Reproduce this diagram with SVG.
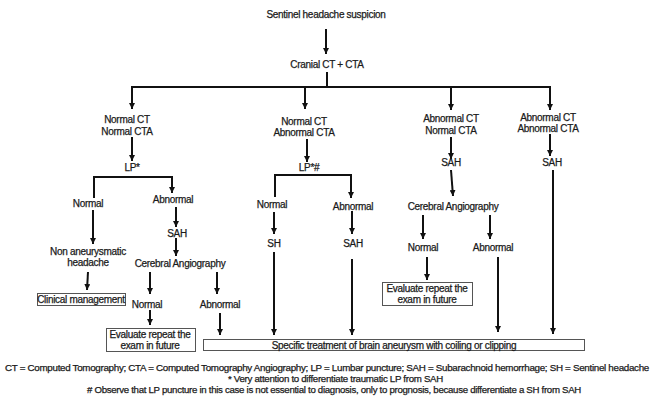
<svg xmlns="http://www.w3.org/2000/svg" width="654" height="399" viewBox="0 0 654 399">
<defs>
<marker id="ah" markerUnits="userSpaceOnUse" markerWidth="7" markerHeight="6" refX="6" refY="3" orient="auto">
<path d="M0,0 L6,3 L0,6 z" fill="#111"/>
</marker>
<style>
text{font-family:"Liberation Sans",Arial,sans-serif;font-size:10px;fill:#1a1a1a;stroke:#1a1a1a;stroke-width:0.25;letter-spacing:-0.3px;text-anchor:middle}
.ft{font-size:9.6px}
.ln{stroke:#111;stroke-width:2;fill:none}
.ar{stroke:#111;stroke-width:2;fill:none;marker-end:url(#ah)}
.bx{fill:#fff;stroke:#555;stroke-width:1}
</style>
</defs>
<rect width="654" height="399" fill="#fff"/>
<g id="connectors">
<line class="ar" x1="326" y1="29" x2="326" y2="54"/>
<line class="ln" x1="327" y1="72" x2="327" y2="87"/>
<polyline class="ln" points="131,87 551,87"/>
<line class="ar" x1="132" y1="86" x2="132" y2="109"/>
<line class="ar" x1="305" y1="86" x2="305" y2="109"/>
<line class="ar" x1="451" y1="86" x2="451" y2="110"/>
<line class="ar" x1="550" y1="86" x2="550" y2="110"/>
<line class="ar" x1="132" y1="137" x2="132" y2="161"/>
<polyline class="ar" points="94,198 94,177 172,177 172,193"/>
<line class="ar" x1="307" y1="139" x2="307" y2="162"/>
<polyline class="ar" points="275,197 275,175 351,175 351,198"/>
<line class="ar" x1="451" y1="137" x2="451" y2="159"/>
<line class="ar" x1="451" y1="170" x2="453" y2="196"/>
<line class="ar" x1="550" y1="134" x2="550" y2="156"/>
<line class="ar" x1="553" y1="170" x2="553" y2="334"/>
<line class="ar" x1="93" y1="210" x2="93" y2="244"/>
<line class="ar" x1="88" y1="272" x2="87" y2="290"/>
<line class="ar" x1="176" y1="207" x2="176" y2="227"/>
<line class="ar" x1="176" y1="238" x2="176" y2="256"/>
<line class="ar" x1="150" y1="272" x2="150" y2="294"/>
<line class="ar" x1="217" y1="272" x2="217" y2="294"/>
<line class="ar" x1="150" y1="310" x2="150" y2="325"/>
<line class="ar" x1="220" y1="313" x2="220" y2="335"/>
<line class="ar" x1="274" y1="212" x2="274" y2="234"/>
<line class="ar" x1="274" y1="252" x2="274" y2="335"/>
<line class="ar" x1="352" y1="211" x2="352" y2="234"/>
<line class="ar" x1="352" y1="259" x2="352" y2="335"/>
<line class="ar" x1="423" y1="215" x2="423" y2="239"/>
<line class="ar" x1="490" y1="215" x2="490" y2="239"/>
<line class="ar" x1="427" y1="257" x2="427" y2="280"/>
<line class="ar" x1="498" y1="257" x2="498" y2="332"/>
</g>
<g id="n-start"><text x="326" y="18">Sentinel headache suspicion</text></g>
<g id="n-ctcta"><text x="327" y="68">Cranial CT + CTA</text></g>
<g id="n-nn"><text x="127" y="123">Normal CT</text><text x="127" y="135">Normal CTA</text></g>
<g id="n-na"><text x="304" y="125">Normal CT</text><text x="304" y="136">Abnormal CTA</text></g>
<g id="n-an"><text x="451" y="122">Abnormal CT</text><text x="451" y="134">Normal CTA</text></g>
<g id="n-aa"><text x="548" y="121">Abnormal CT</text><text x="548" y="132">Abnormal CTA</text></g>
<g id="n-lp1"><text x="132" y="171">LP*</text></g>
<g id="n-lp2"><text x="309" y="171">LP*#</text></g>
<g id="n-sah3"><text x="451" y="166">SAH</text></g>
<g id="n-sah4"><text x="552" y="166">SAH</text></g>
<g id="n-normal1"><text x="88" y="207">Normal</text></g>
<g id="n-abn1"><text x="173" y="203">Abnormal</text></g>
<g id="n-nonan"><text x="88" y="255">Non aneurysmatic</text><text x="88" y="266">headache</text></g>
<g id="n-clin"><rect class="bx" x="37.5" y="293.5" width="88" height="12"/><text x="81" y="303">Clinical management</text></g>
<g id="n-sah1"><text x="177" y="237">SAH</text></g>
<g id="n-ca1"><text x="180" y="267">Cerebral Angiography</text></g>
<g id="n-normal2"><text x="147" y="308">Normal</text></g>
<g id="n-abn2"><text x="220" y="308">Abnormal</text></g>
<g id="n-eval1"><rect class="bx" x="106.5" y="328.5" width="89" height="23"/><text x="150" y="338">Evaluate repeat the</text><text x="150" y="349">exam in future</text></g>
<g id="n-normal3"><text x="272" y="208">Normal</text></g>
<g id="n-sh"><text x="274" y="247">SH</text></g>
<g id="n-abn3"><text x="353" y="210">Abnormal</text></g>
<g id="n-sah2"><text x="353" y="247">SAH</text></g>
<g id="n-ca2"><text x="453" y="210">Cerebral Angiography</text></g>
<g id="n-normal4"><text x="423" y="251">Normal</text></g>
<g id="n-abn4"><text x="493" y="251">Abnormal</text></g>
<g id="n-eval2"><rect class="bx" x="382.5" y="282.5" width="90" height="23"/><text x="427" y="292">Evaluate repeat the</text><text x="427" y="303">exam in future</text></g>
<g id="n-treat"><rect class="bx" x="203.5" y="339.5" width="381" height="11"/><text x="394" y="348.5">Specific treatment of brain aneurysm with coiling or clipping</text></g>
<g id="footer">
<text class="ft" x="5" y="371" style="text-anchor:start" textLength="644" lengthAdjust="spacingAndGlyphs">CT = Computed Tomography; CTA = Computed Tomography Angiography; LP = Lumbar puncture; SAH = Subarachnoid hemorrhage; SH = Sentinel headache</text>
<text class="ft" x="228" y="382" style="text-anchor:start" textLength="215" lengthAdjust="spacingAndGlyphs">* Very attention to differentiate traumatic LP from SAH</text>
<text class="ft" x="87" y="393" style="text-anchor:start" textLength="494" lengthAdjust="spacingAndGlyphs"># Observe that LP puncture in this case is not essential to diagnosis, only to prognosis, because differentiate a SH from SAH</text>
</g>
</svg>
